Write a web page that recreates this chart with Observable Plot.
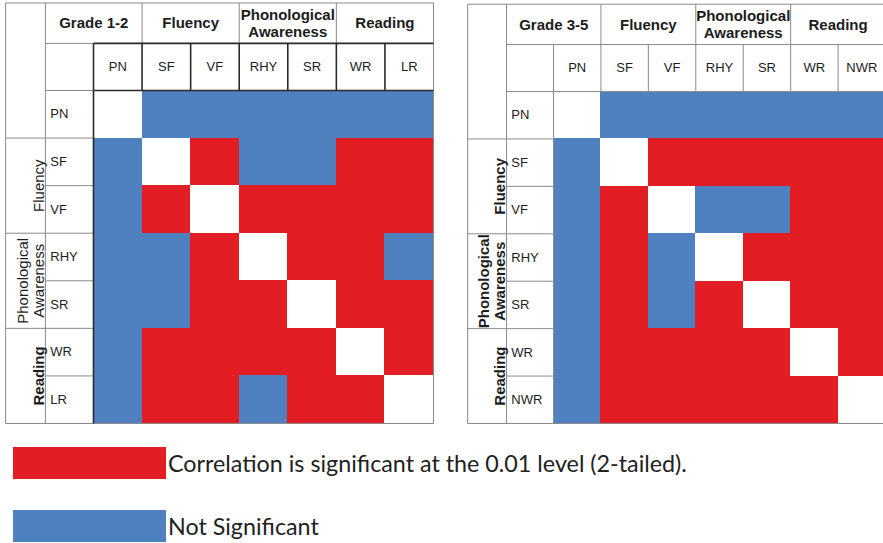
<!DOCTYPE html>
<html>
<head>
<meta charset="utf-8">
<script src="https://cdn.jsdelivr.net/npm/d3@7"></script>
<script src="https://cdn.jsdelivr.net/npm/@observablehq/plot@0.6"></script>
<style>
  html, body { margin: 0; padding: 0; background: #fff; overflow: hidden; width: 883px; height: 543px; }
  #left { position: absolute; left: 0; top: 0; width: 440px; }
  #right { position: absolute; left: 460px; top: 0; width: 432px; }
  #left svg, #right svg { max-width: none !important; }
  .legend-row { position: absolute; left: 13px; display: flex; align-items: center; }
  .sw { width: 153px; height: 32px; flex: none; }
  .lbl { font-family: Lato, "Open Sans", sans-serif; color: #222; margin-left: 2px; white-space: nowrap; }
</style>
</head>
<body>
<div id="left"></div>
<div id="right"></div>
<div id="legend"></div>
<script>
// ---------------- data ----------------
const vars12 = ["PN", "SF", "VF", "RHY", "SR", "WR", "LR"];
const vars35 = ["PN", "SF", "VF", "RHY", "SR", "WR", "NWR"];
const groupOf = ["", "Fluency", "Fluency", "Phonological\nAwareness", "Phonological\nAwareness", "Reading", "Reading"];
const panelTitles = ["Grade 1-2", "Grade 3-5"];
// S = significant at 0.01 level, N = not significant, "-" = diagonal (self)
const sig12 = [
  ["-", "N", "N", "N", "N", "N", "N"],
  ["N", "-", "S", "N", "N", "S", "S"],
  ["N", "S", "-", "S", "S", "S", "S"],
  ["N", "N", "S", "-", "S", "S", "N"],
  ["N", "N", "S", "S", "-", "S", "S"],
  ["N", "S", "S", "S", "S", "-", "S"],
  ["N", "S", "S", "N", "S", "S", "-"]
];
const sig35 = [
  ["-", "N", "N", "N", "N", "N", "N"],
  ["N", "-", "S", "S", "S", "S", "S"],
  ["N", "S", "-", "N", "N", "S", "S"],
  ["N", "S", "N", "-", "S", "S", "S"],
  ["N", "S", "N", "S", "-", "S", "S"],
  ["N", "S", "S", "S", "S", "-", "S"],
  ["N", "S", "S", "S", "S", "S", "-"]
];
const statusKeys = ["S", "N", "-"];
const legendKeys = ["S", "N"];
const legendLabels = ["Correlation is significant at the 0.01 level (2-tailed).", "Not Significant"];

// ---------------- style ----------------
const RED = "#e31d24", BLUE = "#4f81c1";
const statusColors = [RED, BLUE, "#ffffff"];
const GREY = "#8a8a8a", DARK = "#2a2a2a";
const FONT = "'Liberation Sans', Arial, sans-serif";
const TXT = "#1c1c1c";

// table layout in cell units (outside the matrix domain)
const GX0 = -1.81, LX0 = -0.99, TOP = -1.84, H1 = -0.99;

function panel(vars, sig, title, opt) {
  const n = vars.length;
  const cells = [];
  sig.forEach((row, i) => row.forEach((s, j) => cells.push({row: vars[i], col: vars[j], i, j, s})));
  const spans = [];
  groupOf.forEach((g, k) => {
    if (!g) return;
    const last = spans[spans.length - 1];
    if (last && last.name === g) last.end = k + 1;
    else spans.push({name: g, start: k, end: k + 1});
  });
  const idx = vars.map((v, k) => ({v, k}));

  // grid segments
  const grey = [], dark = [];
  const seg = (arr, x1, y1, x2, y2) => arr.push({x1, y1, x2, y2});
  seg(grey, GX0, TOP, n, TOP);
  seg(grey, GX0, n, n, n);
  seg(grey, GX0, TOP, GX0, n);
  seg(grey, n, TOP, n, n);
  seg(grey, LX0, TOP, LX0, n);
  seg(grey, LX0, H1, 0, H1);
  const hdr2 = opt.darkHeader ? dark : grey;
  seg(hdr2, 0, H1, n, H1);
  seg(hdr2, 0, 0, n, 0);
  seg(grey, LX0, 0, 0, 0);
  [1, ...spans.map(s => s.end)].forEach(e => seg(grey, e, TOP, e, H1));
  idx.forEach(({k}) => seg(hdr2, k, H1, k, 0));
  seg(opt.darkHeader ? dark : grey, 0, 0, 0, n);
  idx.slice(1).forEach(({k}) => seg(grey, LX0, k, 0, k));
  spans.forEach(s => seg(grey, GX0, s.start, LX0, s.start));

  const headerSpans = [{name: title, start: LX0, end: 1}, ...spans];

  return Plot.plot({
    width: opt.width,
    height: 430,
    marginLeft: 93,
    marginRight: 7,
    marginTop: opt.marginTop,
    marginBottom: 7,
    x: {domain: [0, n], axis: null},
    y: {domain: [0, n], reverse: true, axis: null},
    color: {domain: statusKeys, range: statusColors},
    style: {fontFamily: FONT, background: "transparent", overflow: "visible", maxWidth: "none"},
    marks: [
      Plot.rect(cells, {x1: "j", x2: d => d.j + 1, y1: "i", y2: d => d.i + 1, fill: "s", shapeRendering: "crispEdges"}),
      Plot.link(grey, {x1: "x1", y1: "y1", x2: "x2", y2: "y2", stroke: GREY, strokeWidth: 1}),
      Plot.link(dark, {x1: "x1", y1: "y1", x2: "x2", y2: "y2", stroke: DARK, strokeWidth: 1.6}),
      Plot.text(idx, {x: d => d.k + 0.5, y: H1 / 2, text: "v", fontSize: 13, fill: TXT}),
      Plot.text(idx, {x: LX0 + 0.1, y: d => d.k + 0.5, text: "v", textAnchor: "start", fontSize: 13, fill: TXT}),
      Plot.text(headerSpans, {x: d => (d.start + d.end) / 2, y: (TOP + H1) / 2, text: "name", fontSize: 15, fontWeight: "bold", lineHeight: 1.1, fill: TXT}),
      Plot.text(spans.filter(s => opt.bold.includes(s.name)), {x: LX0 - 0.03, y: d => (d.start + d.end) / 2, text: "name", rotate: -90, lineAnchor: "bottom", fontSize: 15, fontWeight: "bold", lineHeight: 1.05, fill: TXT}),
      Plot.text(spans.filter(s => !opt.bold.includes(s.name)), {x: LX0 - 0.03, y: d => (d.start + d.end) / 2, text: "name", rotate: -90, lineAnchor: "bottom", fontSize: 15, lineHeight: 1.05, fill: TXT})
    ]
  });
}

document.getElementById("left").appendChild(
  panel(vars12, sig12, panelTitles[0], {width: 440, marginTop: 90, darkHeader: true, bold: ["Reading"]})
);
document.getElementById("right").appendChild(
  panel(vars35, sig35, panelTitles[1], {width: 432, marginTop: 91, darkHeader: false, bold: ["Fluency", "Phonological\nAwareness", "Reading"]})
);

// ---------------- legend ----------------
const legend = document.getElementById("legend");
const legendTops = [447, 510];
const ctx = document.createElement("canvas").getContext("2d");
ctx.font = "22px Lato";
const w22 = ctx.measureText(legendLabels[0]).width;
const fs = 22 * 520 / w22;
legendKeys.forEach((k, i) => {
  const row = document.createElement("div");
  row.className = "legend-row";
  row.style.top = legendTops[i] + "px";
  const sw = document.createElement("div");
  sw.className = "sw";
  sw.style.background = statusColors[statusKeys.indexOf(k)];
  const lb = document.createElement("span");
  lb.className = "lbl";
  lb.style.fontSize = fs.toFixed(1) + "px";
  lb.textContent = legendLabels[i];
  row.appendChild(sw);
  row.appendChild(lb);
  legend.appendChild(row);
});
</script>
</body>
</html>
